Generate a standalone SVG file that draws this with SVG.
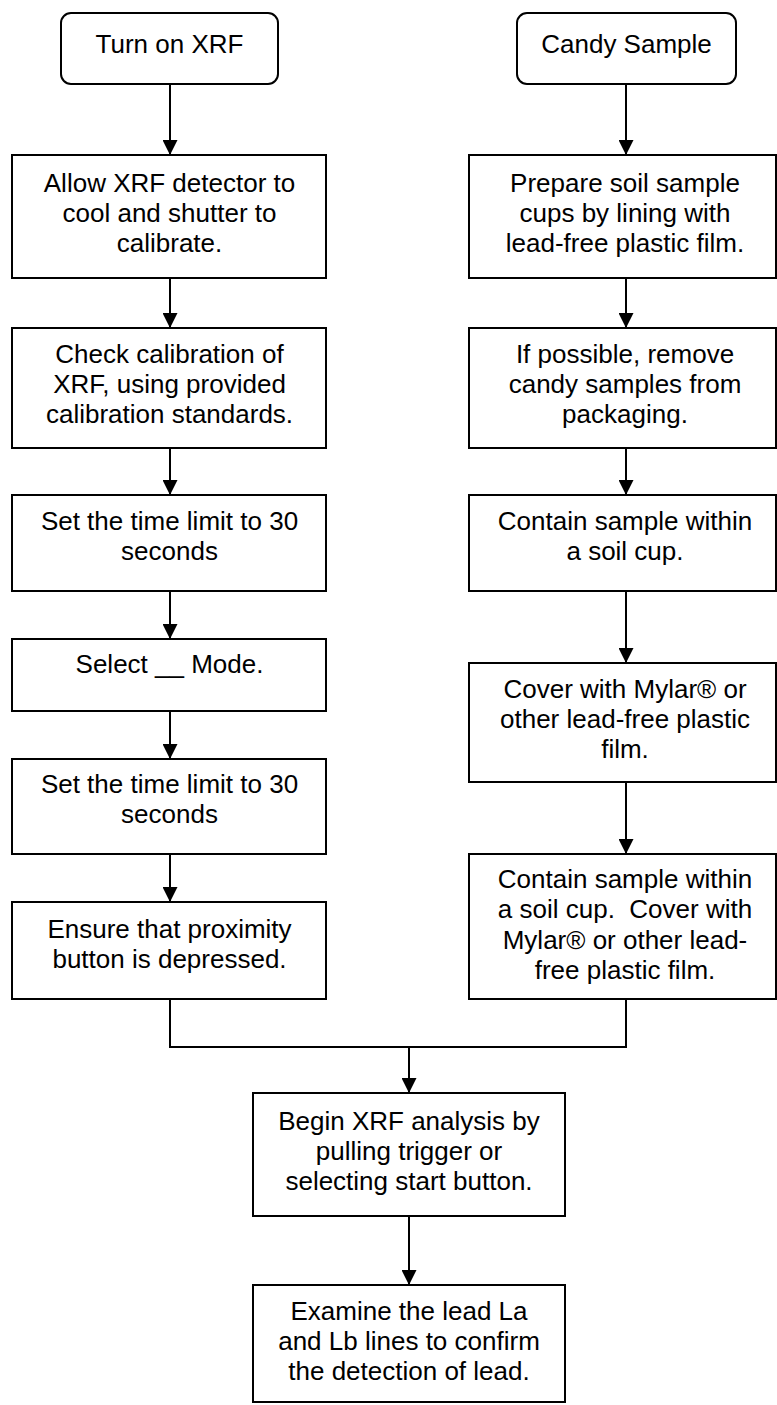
<svg xmlns="http://www.w3.org/2000/svg" width="777" height="1405" viewBox="0 0 777 1405">
<style>
.box{fill:#fff;stroke:#000;stroke-width:2}
.t{font-family:"Liberation Sans",Arial,sans-serif;font-size:26px;fill:#000;text-anchor:middle}
.c{fill:none;stroke:#000;stroke-width:2}
</style>
<defs>
<marker id="ah" markerUnits="userSpaceOnUse" markerWidth="15" markerHeight="15" refX="15" refY="7.5" orient="auto">
<path d="M0,0 L15,7.5 L0,15 z" fill="#000"/>
</marker>
</defs>
<rect width="777" height="1405" fill="#fff"/>
<g id="connectors">
<path class="c" d="M170 84 V155" marker-end="url(#ah)"/>
<path class="c" d="M170 278 V328" marker-end="url(#ah)"/>
<path class="c" d="M170 448 V495" marker-end="url(#ah)"/>
<path class="c" d="M170 591 V639" marker-end="url(#ah)"/>
<path class="c" d="M170 711 V759" marker-end="url(#ah)"/>
<path class="c" d="M170 854 V902" marker-end="url(#ah)"/>
<path class="c" d="M626 84 V155" marker-end="url(#ah)"/>
<path class="c" d="M626 278 V328" marker-end="url(#ah)"/>
<path class="c" d="M626 448 V495" marker-end="url(#ah)"/>
<path class="c" d="M626 591 V663" marker-end="url(#ah)"/>
<path class="c" d="M626 782 V854" marker-end="url(#ah)"/>
<path class="c" d="M170 999 V1047 H626 V999"/>
<path class="c" d="M409 1047 V1093" marker-end="url(#ah)"/>
<path class="c" d="M409 1216 V1285" marker-end="url(#ah)"/>
</g>
<g id="turn-on-xrf">
<rect class="box" x="61" y="13" width="217" height="71" rx="10"/>
<text class="t" x="169.5" y="53">Turn on XRF</text>
</g>
<g id="allow-cool">
<rect class="box" x="12" y="155" width="314" height="123"/>
<text class="t" x="169.5" y="192">Allow XRF detector to</text>
<text class="t" x="169.5" y="222">cool and shutter to</text>
<text class="t" x="169.5" y="252">calibrate.</text>
</g>
<g id="check-calibration">
<rect class="box" x="12" y="328" width="314" height="120"/>
<text class="t" x="169.5" y="363">Check calibration of</text>
<text class="t" x="169.5" y="393">XRF, using provided</text>
<text class="t" x="169.5" y="423">calibration standards.</text>
</g>
<g id="set-time-1">
<rect class="box" x="12" y="495" width="314" height="96"/>
<text class="t" x="169.5" y="530">Set the time limit to 30</text>
<text class="t" x="169.5" y="560">seconds</text>
</g>
<g id="select-mode">
<rect class="box" x="12" y="639" width="314" height="72"/>
<text class="t" x="169.5" y="673">Select __ Mode.</text>
</g>
<g id="set-time-2">
<rect class="box" x="12" y="759" width="314" height="95"/>
<text class="t" x="169.5" y="793">Set the time limit to 30</text>
<text class="t" x="169.5" y="823">seconds</text>
</g>
<g id="ensure-proximity">
<rect class="box" x="12" y="902" width="314" height="97"/>
<text class="t" x="169.5" y="938">Ensure that proximity</text>
<text class="t" x="169.5" y="968">button is depressed.</text>
</g>
<g id="candy-sample">
<rect class="box" x="517" y="13" width="219" height="71" rx="10"/>
<text class="t" x="626.5" y="53">Candy Sample</text>
</g>
<g id="prepare-cups">
<rect class="box" x="469" y="155" width="307" height="123"/>
<text class="t" x="625" y="192">Prepare soil sample</text>
<text class="t" x="625" y="222">cups by lining with</text>
<text class="t" x="625" y="252">lead-free plastic film.</text>
</g>
<g id="remove-packaging">
<rect class="box" x="469" y="328" width="307" height="120"/>
<text class="t" x="625" y="363">If possible, remove</text>
<text class="t" x="625" y="393">candy samples from</text>
<text class="t" x="625" y="423">packaging.</text>
</g>
<g id="contain-sample">
<rect class="box" x="469" y="495" width="307" height="96"/>
<text class="t" x="625" y="530">Contain sample within</text>
<text class="t" x="625" y="560">a soil cup.</text>
</g>
<g id="cover-mylar">
<rect class="box" x="469" y="663" width="307" height="119"/>
<text class="t" x="625" y="698">Cover with Mylar® or</text>
<text class="t" x="625" y="728">other lead-free plastic</text>
<text class="t" x="625" y="758">film.</text>
</g>
<g id="contain-cover">
<rect class="box" x="469" y="854" width="307" height="145"/>
<text class="t" x="625" y="888">Contain sample within</text>
<text class="t" x="625" y="918">a soil cup.&#160; Cover with</text>
<text class="t" x="625" y="949">Mylar® or other lead-</text>
<text class="t" x="625" y="979">free plastic film.</text>
</g>
<g id="begin-analysis">
<rect class="box" x="253" y="1093" width="312" height="123"/>
<text class="t" x="409" y="1130">Begin XRF analysis by</text>
<text class="t" x="409" y="1160">pulling trigger or</text>
<text class="t" x="409" y="1190">selecting start button.</text>
</g>
<g id="examine-lines">
<rect class="box" x="253" y="1285" width="312" height="117"/>
<text class="t" x="409" y="1320">Examine the lead La</text>
<text class="t" x="409" y="1350">and Lb lines to confirm</text>
<text class="t" x="409" y="1380">the detection of lead.</text>
</g>
</svg>
